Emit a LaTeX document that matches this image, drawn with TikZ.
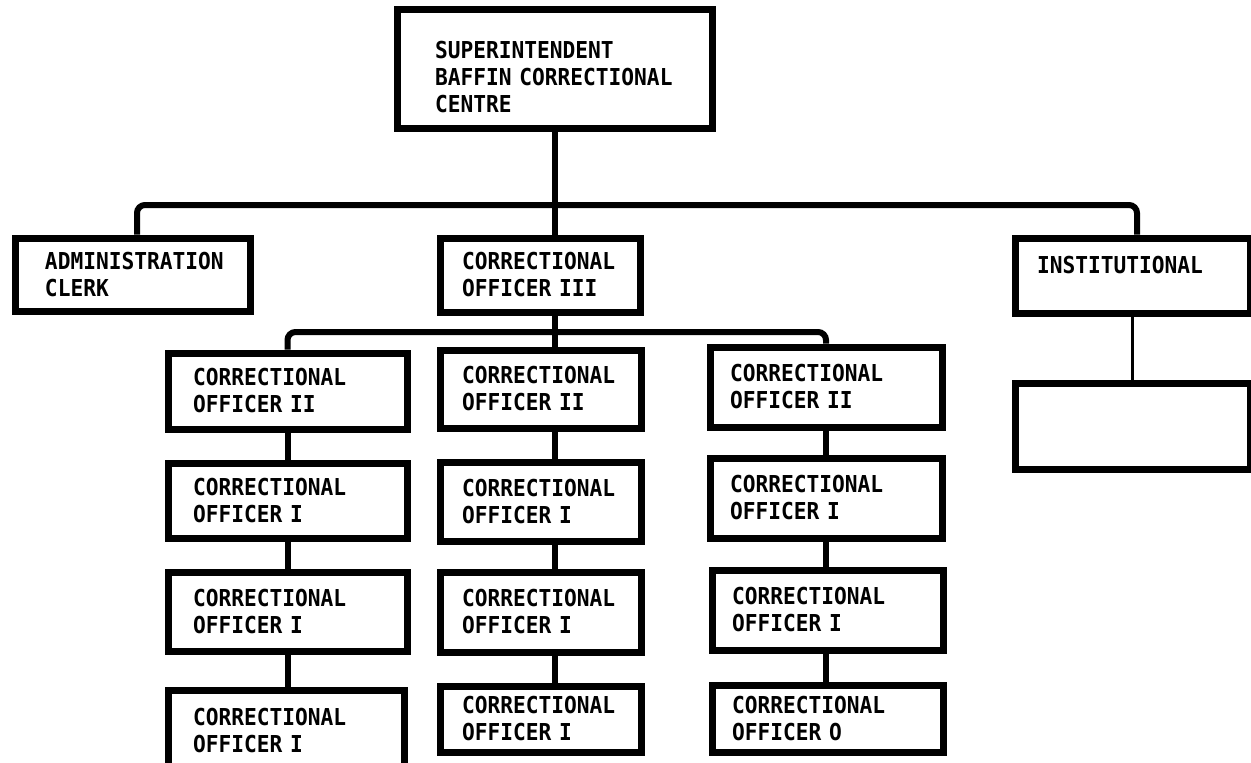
\documentclass[tikz,border=0pt]{standalone}
\usepackage{fontspec}
\newfontfamily\orgfont[FakeStretch=0.91]{DejaVu Sans Mono}
% \OrgBox{name}{left}{top}{right}{bottom}{text indent}{text}
\newcommand\OrgBox[7]{%
  \pgfmathsetmacro\obw{#4-#2}%
  \pgfmathsetmacro\obh{#5-#3}%
  \pgfmathsetmacro\obt{#4-#2-2*#6}%
  \node[orgbox, minimum width=\obw pt, minimum height=\obh pt,
        text width=\obt pt, inner xsep=#6pt]
    (#1) at ({(#2+#4)/2},{(#3+#5)/2}) {#7};}
\begin{document}
\begin{tikzpicture}[x=1pt,y=-1pt,
  orgbox/.style={draw, rectangle, line width=7pt, inner ysep=0pt, align=left,
    font=\orgfont\bfseries\fontsize{23.3}{27}\selectfont},
  conn/.style={line width=6pt, line cap=butt},
  thinconn/.style={line width=3pt, line cap=butt}]
\useasboundingbox (0,0) rectangle (1251,763);

% top of the hierarchy
\OrgBox{sup}{397}{9}{712}{128}{38}{\mbox{}\\[8pt]SUPERINTENDENT\\BAFFIN~CORRECTIONAL\\CENTRE}
\OrgBox{admin}{15}{238}{250}{311}{30}{ADMINISTRATION\\CLERK}
\OrgBox{co3}{440}{238}{640}{312}{22}{CORRECTIONAL\\OFFICER III}
\OrgBox{inst}{1015}{238}{1250}{313}{22}{INSTITUTIONAL\\[-6pt]\mbox{}}
\OrgBox{inst2}{1015}{383}{1250}{469}{22}{}

% left column
\OrgBox{c1r1}{168}{353}{407}{429}{25}{CORRECTIONAL\\OFFICER II}
\OrgBox{c1r2}{168}{463}{407}{538}{25}{CORRECTIONAL\\OFFICER I}
\OrgBox{c1r3}{168}{572}{407}{651}{25}{CORRECTIONAL\\OFFICER I}
\OrgBox{c1r4}{168}{690}{404}{772}{25}{CORRECTIONAL\\OFFICER I}

% middle column
\OrgBox{c2r1}{440}{350}{641}{428}{22}{CORRECTIONAL\\OFFICER II}
\OrgBox{c2r2}{440}{462}{641}{541}{22}{CORRECTIONAL\\OFFICER I}
\OrgBox{c2r3}{440}{572}{641}{652}{22}{CORRECTIONAL\\OFFICER I}
\OrgBox{c2r4}{440}{686}{641}{752}{22}{CORRECTIONAL\\OFFICER I}

% right column
\OrgBox{c3r1}{710}{347}{942}{427}{20}{CORRECTIONAL\\OFFICER II}
\OrgBox{c3r2}{710}{458}{942}{538}{20}{CORRECTIONAL\\OFFICER I}
\OrgBox{c3r3}{712}{570}{943}{650}{20}{CORRECTIONAL\\OFFICER I}
\OrgBox{c3r4}{712}{685}{943}{752}{20}{CORRECTIONAL\\OFFICER O}

% connectors
\coordinate (busA) at (555,205);
\coordinate (busB) at (555,332);
\draw[conn] (sup.south) -- (sup.south |- co3.north);
\draw[conn, rounded corners=8pt] ([xshift=4.5pt]admin.north) |- (busA) -| ([xshift=4.5pt]inst.north);
\draw[thinconn] (inst.south) -- (inst2.north);

\draw[conn] (co3.south -| sup.south) -- (c2r1.north -| sup.south);
\draw[conn, rounded corners=8pt] (c1r1.north) |- (busB) -| (c3r1.north);

% vertical chains inside each column
\foreach \a/\b in {c1r1/c1r2, c1r2/c1r3, c1r3/c1r4}
  \draw[conn] (\a.south -| c1r1.north) -- (\b.north -| c1r1.north);
\foreach \a/\b in {c2r1/c2r2, c2r2/c2r3, c2r3/c2r4}
  \draw[conn] (\a.south -| sup.south) -- (\b.north -| sup.south);
\foreach \a/\b in {c3r1/c3r2, c3r2/c3r3, c3r3/c3r4}
  \draw[conn] (\a.south -| c3r1.north) -- (\b.north -| c3r1.north);
\end{tikzpicture}
\end{document}
